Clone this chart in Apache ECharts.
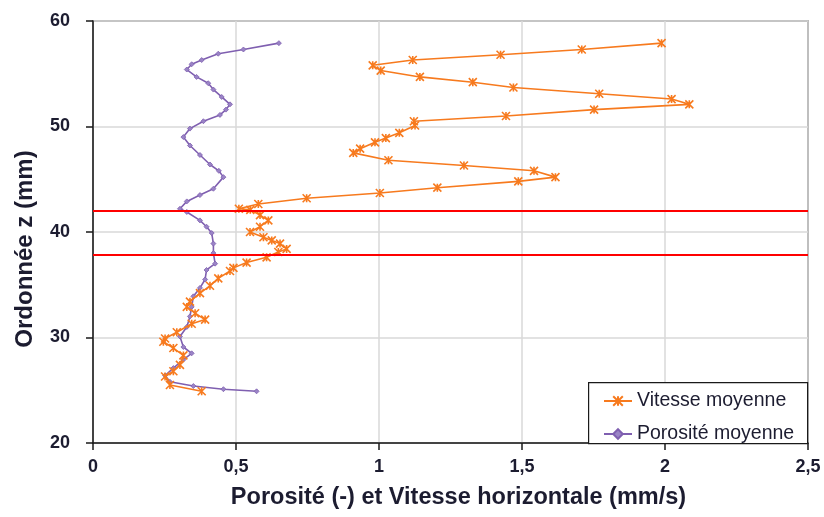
<!DOCTYPE html>
<html>
<head>
<meta charset="utf-8">
<script src="https://cdn.jsdelivr.net/npm/echarts@6/dist/echarts.min.js"></script>
<style>
  html, body { margin: 0; padding: 0; background: #fff; }
  #chart { width: 824px; height: 517px; }
</style>
</head>
<body>
<div id="chart"></div>
<script>
// Vitesse moyenne (mm/s) against height z (mm), top to bottom
const vitesseV = [1.988, 1.709, 1.425, 1.118, 0.978, 1.006, 1.143, 1.328, 1.470, 1.770,
  2.023, 2.085, 1.752, 1.444, 1.122, 1.126, 1.071, 1.024, 0.986, 0.934,
  0.910, 1.033, 1.297, 1.542, 1.617, 1.487, 1.204, 1.003, 0.747, 0.578,
  0.510, 0.550, 0.584, 0.613, 0.584, 0.549, 0.596, 0.625, 0.654, 0.677,
  0.648, 0.607, 0.537, 0.491, 0.479, 0.438, 0.409, 0.374, 0.339, 0.328,
  0.357, 0.392, 0.345, 0.293, 0.252, 0.246, 0.281, 0.316, 0.304, 0.281,
  0.252, 0.269, 0.380];
const vitesseZ = [57.9, 57.3, 56.8, 56.3, 55.8, 55.3, 54.7, 54.2, 53.7, 53.1,
  52.6, 52.1, 51.6, 51.0, 50.5, 50.1, 49.4, 48.9, 48.5, 47.9,
  47.5, 46.8, 46.3, 45.8, 45.2, 44.8, 44.2, 43.7, 43.2, 42.65,
  42.2, 42.1, 41.6, 41.1, 40.5, 40.0, 39.5, 39.2, 38.9, 38.4,
  38.1, 37.6, 37.1, 36.6, 36.3, 35.6, 34.9, 34.2, 33.4, 32.9,
  32.3, 31.7, 31.3, 30.5, 29.9, 29.6, 29.0, 28.3, 27.4, 26.8,
  26.3, 25.5, 24.9];

// Porosité moyenne (-) against height z (mm), top to bottom
const porositeV = [0.650, 0.526, 0.438, 0.380, 0.345, 0.328, 0.362, 0.403, 0.421, 0.450,
  0.479, 0.465, 0.444, 0.386, 0.339, 0.316, 0.339, 0.374, 0.409, 0.440,
  0.456, 0.421, 0.374, 0.328, 0.304, 0.328, 0.374, 0.397, 0.415, 0.421,
  0.421, 0.427, 0.397, 0.392, 0.374, 0.351, 0.345, 0.339, 0.328, 0.304,
  0.316, 0.345, 0.316, 0.281, 0.252, 0.269, 0.351, 0.456, 0.572];
const porositeZ = [57.9, 57.3, 56.9, 56.3, 55.9, 55.4, 54.7, 54.1, 53.5, 52.8,
  52.1, 51.6, 51.1, 50.5, 49.8, 49.0, 48.2, 47.3, 46.4, 45.8,
  45.2, 44.1, 43.5, 42.9, 42.2, 41.9, 41.1, 40.5, 39.9, 38.9,
  38.0, 37.0, 36.4, 35.5, 34.7, 33.9, 32.9, 32.0, 31.0, 30.1,
  29.1, 28.5, 27.9, 27.1, 26.4, 25.8, 25.4, 25.1, 24.9];

// Horizontal reference levels (mm)
const redLevels = [42.05, 37.8];

const seriesNames = ['Vitesse moyenne', 'Porosité moyenne'];
const xTitle = 'Porosité (-) et Vitesse horizontale (mm/s)';
const yTitle = 'Ordonnée z (mm)';

const pairs = (xs, zs) => xs.map((v, i) => [v, zs[i]]);

const ORANGE = '#f77a1e';
const PURPLE = '#7f5fb0';
const TEXT = '#1c1c30';
const FONT = '"Liberation Sans", Arial, sans-serif';
const starPath = 'path://M0,0L10,10M10,0L0,10M5,0L5,10';

const chart = echarts.init(document.getElementById('chart'), null, { renderer: 'canvas' });

chart.setOption({
  backgroundColor: '#ffffff',
  animation: false,
  textStyle: { fontFamily: FONT },
  grid: {
    left: 93, right: 16, top: 21, bottom: 74,
    show: true, borderColor: '#1a1a1a', borderWidth: 1.2
  },
  graphic: [{
    type: 'rect', left: 588, top: 382, z: 10,
    shape: { width: 219, height: 61 },
    style: { fill: '#fff', stroke: '#1a1a1a', lineWidth: 1.2 }
  }],
  legend: {
    left: 598, top: 386, orient: 'vertical', z: 20,
    itemWidth: 28, itemHeight: 12, itemGap: 13,
    textStyle: { fontSize: 19.5, color: TEXT, fontFamily: FONT },
    data: seriesNames
  },
  xAxis: {
    type: 'value', min: 0, max: 2.5, interval: 0.5,
    name: xTitle, nameLocation: 'middle', nameGap: 43,
    nameTextStyle: {
      fontSize: 23.5, fontWeight: 'bold', color: TEXT, fontFamily: FONT,
      padding: [0, 0, 0, 16]
    },
    axisLine: { show: true, lineStyle: { color: '#1a1a1a', width: 1.5 } },
    axisTick: { show: true, inside: false, length: 7, lineStyle: { color: '#1a1a1a', width: 1.5 } },
    axisLabel: {
      fontSize: 18, fontWeight: 'bold', color: TEXT, margin: 15,
      formatter: v => String(v).replace('.', ',')
    },
    splitLine: { show: true, lineStyle: { color: '#d9d9d9', width: 1.5 } }
  },
  yAxis: {
    type: 'value', min: 20, max: 60, interval: 10,
    name: yTitle, nameLocation: 'middle', nameGap: 56, nameRotate: 90,
    nameTextStyle: {
      fontSize: 24, fontWeight: 'bold', color: TEXT, fontFamily: FONT,
      padding: [0, 34, 0, 0]
    },
    axisLine: { show: true, lineStyle: { color: '#1a1a1a', width: 1.5 } },
    axisTick: { show: true, inside: false, length: 7, lineStyle: { color: '#1a1a1a', width: 1.5 } },
    axisLabel: { fontSize: 18, fontWeight: 'bold', color: TEXT, margin: 23 },
    splitLine: { show: true, lineStyle: { color: '#d9d9d9', width: 1.5 } }
  },
  series: [
    {
      name: seriesNames[0], type: 'line',
      data: pairs(vitesseV, vitesseZ),
      lineStyle: { color: ORANGE, width: 1.6 },
      symbol: starPath, symbolSize: 8, showAllSymbol: true,
      itemStyle: { color: 'rgba(0,0,0,0)', borderColor: ORANGE, borderWidth: 1.6 },
      z: 4,
      markLine: {
        silent: true, symbol: ['none', 'none'],
        label: { show: false },
        lineStyle: { color: '#ff0000', width: 1.8, type: 'solid' },
        data: redLevels.map(z => ({ yAxis: z }))
      }
    },
    {
      name: seriesNames[1], type: 'line',
      data: pairs(porositeV, porositeZ),
      lineStyle: { color: PURPLE, width: 1.6 },
      symbol: 'diamond', symbolSize: 5, showAllSymbol: true,
      itemStyle: { color: '#9a84c6', borderColor: PURPLE, borderWidth: 0.8 },
      z: 3
    }
  ]
});
</script>
</body>
</html>
